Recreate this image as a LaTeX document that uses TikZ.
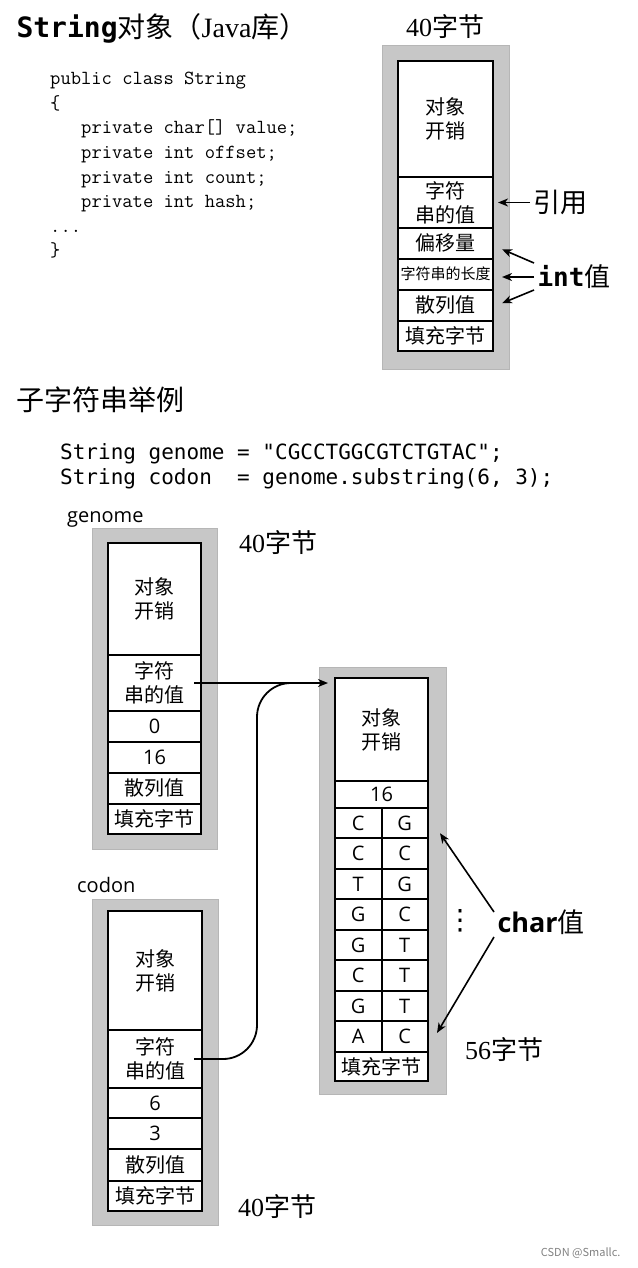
\documentclass[tikz,border=0pt]{standalone}
\usepackage{fontspec}
\setmainfont{Open Sans}
\newfontfamily\cjk{Noto Sans CJK SC}
\newfontfamily\codefont{DejaVu Sans Mono}
\newfontfamily\numfont{Liberation Serif}
\newfontfamily\symfont{DejaVu Sans}
\usetikzlibrary{arrows.meta}
\definecolor{framegray}{RGB}{199,199,199}
\definecolor{frameedge}{RGB}{182,182,182}
\tikzset{
  frame/.style={fill=framegray, draw=frameedge, line width=1pt},
  cell/.style={draw, line width=2pt, fill=white, inner sep=0pt, align=center, font=\fontsize{20}{24}\selectfont},
  zhcell/.style={cell, font=\cjk\fontsize{20}{24}\selectfont},
  chr/.style={cell, minimum width=46.5pt, minimum height=30.46pt},
  ptr/.style={-{Stealth[length=10pt,width=8pt,inset=3pt]}, line width=1.6pt},
  link/.style={line width=1.8pt, rounded corners=34pt},
  bytes/.style={font=\fontsize{26}{26}\selectfont},
  src/.style={anchor=base west, inner sep=0pt, font=\ttfamily\fontsize{20}{24}\selectfont},
  use/.style={anchor=base west, inner sep=0pt, font=\codefont\fontsize{21}{25}\selectfont},
}
\begin{document}
\begin{tikzpicture}[x=1pt,y=-1pt]
\useasboundingbox (0,0) rectangle (637,1268);

% String object layout
\node[anchor=west, font=\fontsize{28}{28}\selectfont] (title) at (13,28) {{\codefont\bfseries String}{\cjk 对象（}{\numfont Java}{\cjk 库）}};
\node[src] (src1) at (50,85) {public class String};
\node[src] (src2) at (50,109.5) {\{};
\node[src] (src3) at (81,134) {private char[] value;};
\node[src] (src4) at (81,158.5) {private int offset;};
\node[src] (src5) at (81,183) {private int count;};
\node[src] (src6) at (81,207.5) {private int hash;};
\node[src] (src7) at (50,232) {...};
\node[src] (src8) at (50,256.5) {\}};

\node[bytes] (tSize) at (445,27) {{\numfont 40}{\cjk 字节}};
\filldraw[frame] (382,46) rectangle (509,369);
\node[zhcell, minimum width=95pt, minimum height=116pt] (tOver) at (445.5,119) {对象\\开销};
\node[zhcell, minimum width=95pt, minimum height=51pt] (tStr) at (445.5,202.5) {字符\\串的值};
\node[zhcell, minimum width=95pt, minimum height=30.5pt] (tOff) at (445.5,243.25) {偏移量};
\node[zhcell, minimum width=95pt, minimum height=31pt, font=\cjk\fontsize{15}{15}\selectfont] (tLen) at (445.5,274) {字符串的长度};
\node[zhcell, minimum width=95pt, minimum height=31.5pt] (tHash) at (445.5,305.25) {散列值};
\node[zhcell, minimum width=95pt, minimum height=30pt] (tPad) at (445.5,336) {填充字节};

\node[font=\cjk\fontsize{27}{27}\selectfont, anchor=west] (refLbl) at (530,202.5) {引用};
\node[font=\fontsize{26}{26}\selectfont, anchor=west] (intLbl) at (534,277) {{\codefont\bfseries int}{\cjk 值}};
\draw[ptr] (refLbl.west) -- ([xshift=4pt]tStr.east);
\draw[ptr] ([yshift=14pt]intLbl.west) -- ([xshift=8pt,yshift=-6pt]tOff.east);
\draw[ptr] (intLbl.west) -- ([xshift=8pt,yshift=-3pt]tLen.east);
\draw[ptr] ([yshift=-13pt]intLbl.west) -- ([xshift=8pt,yshift=2pt]tHash.east);

% substring example
\node[anchor=west, font=\cjk\fontsize{28}{28}\selectfont] (subTitle) at (13,400) {子字符串举例};
\node[use] (use1) at (60,459) {String genome = "CGCCTGGCGTCTGTAC";};
\node[use] (use2) at (60,484) {String codon~~= genome.substring(6, 3);};

% genome
\node[anchor=base west, inner sep=0pt, font=\fontsize{20}{20}\selectfont] (gName) at (67,522) {genome};
\node[bytes] (gSize) at (278,543) {{\numfont 40}{\cjk 字节}};
\filldraw[frame] (92,528) rectangle (217,849);
\node[zhcell, minimum width=93pt, minimum height=112pt] (gOver) at (154.5,599) {对象\\开销};
\node[zhcell, minimum width=93pt, minimum height=56pt] (gStr) at (154.5,683) {字符\\串的值};
\node[cell, minimum width=93pt, minimum height=30.5pt] (gOff) at (154.5,726.25) {0};
\node[cell, minimum width=93pt, minimum height=31.5pt] (gLen) at (154.5,757.25) {16};
\node[zhcell, minimum width=93pt, minimum height=30.5pt] (gHash) at (154.5,788.25) {散列值};
\node[zhcell, minimum width=93pt, minimum height=30.5pt] (gPad) at (154.5,818.75) {填充字节};

% codon
\node[anchor=base west, inner sep=0pt, font=\fontsize{20}{20}\selectfont] (cName) at (77,892) {codon};
\node[bytes] (cSize) at (277,1207) {{\numfont 40}{\cjk 字节}};
\filldraw[frame] (92,899) rectangle (218,1225);
\node[zhcell, minimum width=94pt, minimum height=119pt] (cOver) at (155,970.5) {对象\\开销};
\node[zhcell, minimum width=94pt, minimum height=58pt] (cStr) at (155,1059) {字符\\串的值};
\node[cell, minimum width=94pt, minimum height=30pt] (cOff) at (155,1103) {6};
\node[cell, minimum width=94pt, minimum height=31pt] (cLen) at (155,1133.5) {3};
\node[zhcell, minimum width=94pt, minimum height=31.5pt] (cHash) at (155,1164.75) {散列值};
\node[zhcell, minimum width=94pt, minimum height=30.5pt] (cPad) at (155,1195.75) {填充字节};

% char array
\filldraw[frame] (319,667) rectangle (446,1094);
\node[zhcell, minimum width=93pt, minimum height=103pt] (aOver) at (381.5,729.5) {对象\\开销};
\node[cell, minimum width=93pt, minimum height=27pt] (aLen) at (381.5,794.5) {16};
\foreach \l/\r [count=\i] in {C/G, C/C, T/G, G/C, G/T, C/T, G/T, A/C} {
  \node[chr] (l\i) at (358.25,{792.77+30.46*\i}) {\l};
  \node[chr] (r\i) at (404.75,{792.77+30.46*\i}) {\r};
}
\node[zhcell, minimum width=93pt, minimum height=29.3pt] (aPad) at (381.5,1066.35) {填充字节};
\node[bytes] (aSize) at (504,1050) {{\numfont 56}{\cjk 字节}};

\node[font=\symfont\fontsize{28}{28}\selectfont] (dots) at (460,921) {⋮};
\node[font=\fontsize{27}{27}\selectfont, anchor=west] (charLbl) at (494,922) {{\bfseries char}{\cjk 值}};
\draw[ptr] ([yshift=10pt]charLbl.west) -- ([xshift=11pt,yshift=-10pt]r1.east);
\draw[ptr] ([yshift=-15pt]charLbl.west) -- ([xshift=8pt,yshift=3.5pt]r8.east);

% references to the char array
\path (aOver.west |- gStr.east) coordinate (aIn);
\draw[ptr] ([xshift=-8pt]gStr.east) -- ([xshift=-6pt]aIn);
\draw[link] ([xshift=-9pt]cStr.east) -| ([xshift=-77pt]aIn) -- ([xshift=-35pt]aIn);

\node[anchor=east, text=gray, font=\cjk\fontsize{11}{11}\selectfont] (mark) at (624,1253) {CSDN @Smallc.};
\end{tikzpicture}
\end{document}
